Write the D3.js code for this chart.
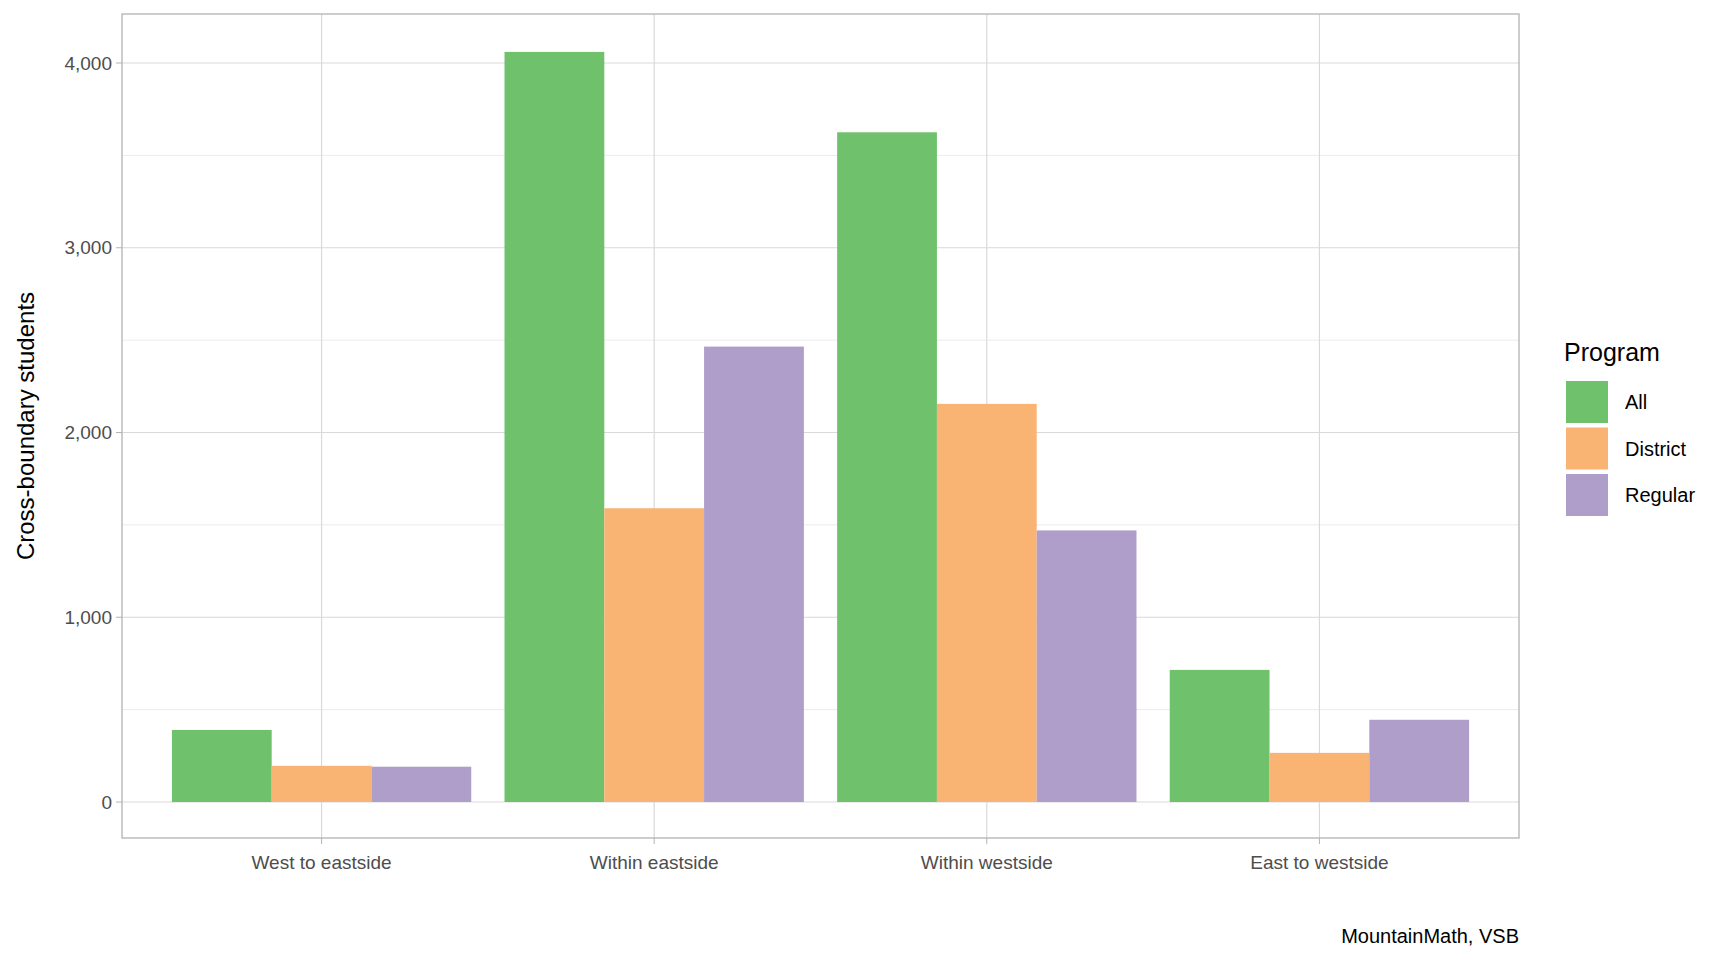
<!DOCTYPE html><html><head><meta charset="utf-8"><script src="https://cdn.jsdelivr.net/npm/d3@7"></script>
<style>body{margin:0;background:#fff}text{font-family:"Liberation Sans",Arial,sans-serif}</style></head><body><svg id="c" width="1728" height="960"></svg>
<script>
const categories=["West to eastside","Within eastside","Within westside","East to westside"];
const programs=["All","District","Regular"];
const colors=["#6fc16b","#f9b373","#af9dca"];
const valAll=[390,4060,3625,715];
const valDistrict=[196,1590,2155,266];
const valRegular=[191,2465,1470,445];
const yTicks=[0,1000,2000,3000,4000];
const series=[valAll,valDistrict,valRegular];
const svg=d3.select("#c");
const L=122,R=1519,T=14,B=838;
const x=d3.scaleLinear().domain([0.4,4.6]).range([L,R]);
const y=d3.scaleLinear().domain([0,4000]).range([802,63]);
const g=svg.append("g");
// minor grid
for(let v=-500;v<=4500;v+=1000){const yy=y(v);if(yy>T&&yy<B)g.append("line").attr("x1",L).attr("x2",R).attr("y1",yy).attr("y2",yy).attr("stroke","#ebebeb").attr("stroke-width",1);}
yTicks.forEach(v=>g.append("line").attr("x1",L).attr("x2",R).attr("y1",y(v)).attr("y2",y(v)).attr("stroke","#d9d9d9").attr("stroke-width",1.2));
categories.forEach((c,i)=>g.append("line").attr("x1",x(i+1)).attr("x2",x(i+1)).attr("y1",T).attr("y2",B).attr("stroke","#d9d9d9").attr("stroke-width",1.2));
const bw=x(1.3)-x(1);
series.forEach((s,j)=>s.forEach((v,i)=>{
 const x0=x(i+1)-1.5*bw+j*bw;
 g.append("rect").attr("x",x0).attr("width",bw).attr("y",y(v)).attr("height",y(0)-y(v)).attr("fill",colors[j]);
}));
g.append("rect").attr("x",L).attr("y",T).attr("width",R-L).attr("height",B-T).attr("fill","none").attr("stroke","#b3b3b3").attr("stroke-width",1.3);
const fmt=d3.format(",");
yTicks.forEach(v=>{
 g.append("line").attr("x1",L-6).attr("x2",L).attr("y1",y(v)).attr("y2",y(v)).attr("stroke","#b3b3b3");
 g.append("text").attr("x",L-10).attr("y",y(v)).attr("dy","0.35em").attr("text-anchor","end").attr("font-size",19).attr("fill","#4d4d4d").text(fmt(v));
});
categories.forEach((c,i)=>{
 g.append("line").attr("x1",x(i+1)).attr("x2",x(i+1)).attr("y1",B).attr("y2",B+6).attr("stroke","#b3b3b3");
 g.append("text").attr("x",x(i+1)).attr("y",869).attr("text-anchor","middle").attr("font-size",19).attr("fill","#4d4d4d").text(c);
});
svg.append("text").attr("transform","translate(34,426) rotate(-90)").attr("text-anchor","middle").attr("font-size",24).attr("fill","#000").text("Cross-boundary students");
svg.append("text").attr("x",1564).attr("y",361).attr("font-size",25).text("Program");
programs.forEach((p,j)=>{
 svg.append("rect").attr("x",1566).attr("y",381+j*46.5).attr("width",42).attr("height",42).attr("fill",colors[j]);
 svg.append("text").attr("x",1625).attr("y",402+j*46.5).attr("dy","0.35em").attr("font-size",20).text(p);
});
svg.append("text").attr("x",R).attr("y",943).attr("text-anchor","end").attr("font-size",20).text("MountainMath, VSB");
</script></body></html>
